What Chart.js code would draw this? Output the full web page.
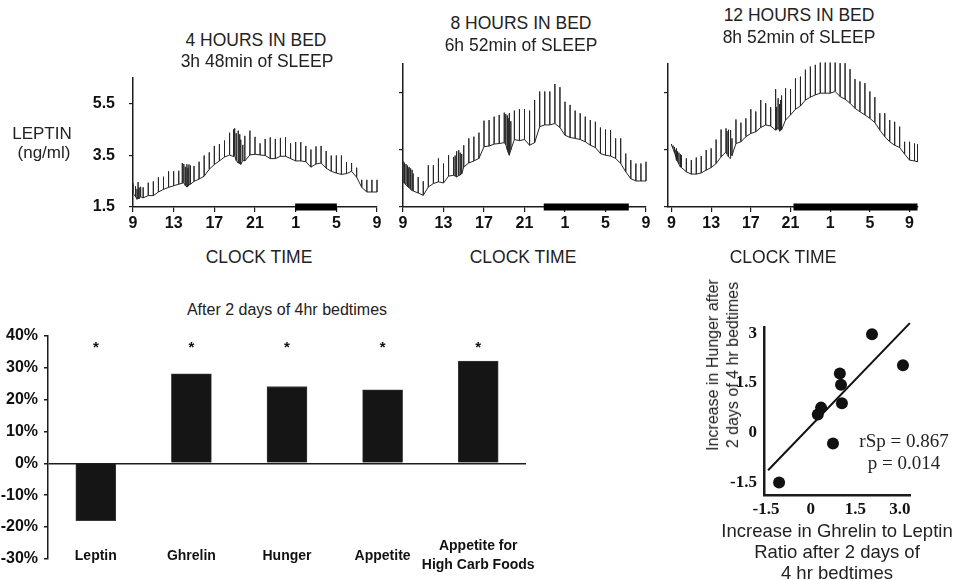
<!DOCTYPE html>
<html><head><meta charset="utf-8">
<script src="https://cdn.jsdelivr.net/npm/chart.js@4.4.0/dist/chart.umd.min.js"></script>
<style>
body{margin:0;background:#fff;}
#wrap{position:relative;width:954px;height:580px;overflow:hidden;font-family:"Liberation Sans",Arial,sans-serif;color:#222;background:#fff;}
canvas{position:absolute;}
.t{position:absolute;white-space:nowrap;transform:translate(-50%,-50%);line-height:1;}
.s{font-family:"Liberation Serif","Times New Roman",serif;}
</style></head><body><div id="wrap">
<canvas id="c1" width="325" height="183" style="left:60px;top:54px"></canvas>
<canvas id="c2" width="269" height="183" style="left:385px;top:54px"></canvas>
<canvas id="c3" width="278" height="183" style="left:650px;top:54px"></canvas>
<canvas id="cb" width="600" height="260" style="left:0px;top:320px"></canvas>
<canvas id="cs" width="220" height="230" style="left:700px;top:310px"></canvas>

<div class="t" style="left:256px;top:41px;font-size:17.5px">4 HOURS IN BED</div>
<div class="t" style="left:257px;top:61.5px;font-size:17.5px">3h 48min of SLEEP</div>
<div class="t" style="left:521px;top:24px;font-size:17.5px">8 HOURS IN BED</div>
<div class="t" style="left:521px;top:46px;font-size:17.5px">6h 52min of SLEEP</div>
<div class="t" style="left:799px;top:16px;font-size:17.5px">12 HOURS IN BED</div>
<div class="t" style="left:799px;top:38px;font-size:17.5px">8h 52min of SLEEP</div>
<div class="t" style="left:259px;top:258px;font-size:17.5px">CLOCK TIME</div>
<div class="t" style="left:523px;top:258px;font-size:17.5px">CLOCK TIME</div>
<div class="t" style="left:783px;top:258px;font-size:17.5px">CLOCK TIME</div>
<div class="t" style="left:42px;top:133px;font-size:17px">LEPTIN</div>
<div class="t" style="left:44px;top:152px;font-size:17px">(ng/ml)</div>
<div class="t" style="left:287px;top:310px;font-size:16px">After 2 days of 4hr bedtimes</div>
<div class="t s" style="left:904px;top:440px;font-size:19px">rSp = 0.867</div>
<div class="t s" style="left:904px;top:462px;font-size:19px">p = 0.014</div>
<div class="t" style="left:723px;top:365px;font-size:16px;line-height:20px;text-align:center;transform:translate(-50%,-50%) rotate(-90deg)">Increase in Hunger after<br>2 days of 4 hr bedtimes</div>
<div class="t" style="left:837px;top:551px;font-size:18.5px;line-height:21px;text-align:center">Increase in Ghrelin to Leptin<br>Ratio after 2 days of<br>4 hr bedtimes</div>
</div>
<script>
// ---------- data ----------
const clockTicks = [0,4,8,12,16,20,24];
const clockLabels = ['9','13','17','21','1','5','9'];
const leptinTicks = [1.5,3.5,5.5];
const halfHours = [0,0.5,1,1.5,2,2.5,3,3.5,4,4.5,5,5.5,6,6.5,7,7.5,8,8.5,9,9.5,10,10.5,11,11.5,12,12.5,13,13.5,14,14.5,15,15.5,16,16.5,17,17.5,18,18.5,19,19.5,20,20.5,21,21.5,22,22.5,23,23.5,24];

// 4 hours in bed
const p1Base = [2.03,1.84,1.85,1.94,1.94,2.08,2.18,2.26,2.32,2.38, 2.44,2.35,2.49,2.58,2.69,2.96,3.14,3.28,3.43,3.51, 3.49,3.18,3.28,3.51,3.54,3.51,3.49,3.37,3.37,3.46, 3.46,3.37,3.28,3.28,3.25,3.04,3.16,3.2,3.0,2.88, 2.81,2.76,2.79,2.88,2.65,2.26,2.08,2.08,2.08];
const p1Peak = [2.41,2.46,2.26,2.44,2.49,2.65,2.67,2.88,2.88,2.9, 3.16,3.14,3.08,3.25,3.49,3.61,3.86,3.93,4.07,4.37, 4.54,4.31,4.25,4.45,4.21,3.96,4.13,4.19,4.13,4.17, 4.19,3.96,4.01,4.01,3.86,3.72,3.84,3.86,3.66,3.49, 3.49,3.49,3.23,3.2,3.02,2.55,2.55,2.55,2.55];
const p1ExtraTime = [0.25,0.4,0.6,0.75, 4.85,5.15,5.3,5.4,5.65, 9.9,10.15,10.35,10.6,10.8];
const p1ExtraBase = [1.9,1.8,1.82,1.9, 2.42,2.33,2.27,2.3,2.38, 3.45,3.3,3.2,3.15,3.3];
const p1ExtraPeak = [2.3,2.2,2.25,2.28, 3.2,3.05,3.15,3.0,3.1, 4.5,4.35,4.45,4.1,3.9];
const p1Sleep = [15.95,20.05];

// 8 hours in bed
const p2Base = [2.38,2.2,2.06,1.99,1.91,2.2,2.32,2.38,2.34,2.58, 2.61,2.6,2.9,3.04,3.11,3.2,3.61,3.63,3.7,3.72, 3.75,3.31,3.86,3.82,3.86,3.66,3.75,4.31,4.37,4.37, 4.42,4.28,4.01,3.93,3.9,3.86,3.78,3.66,3.58,3.37, 3.31,3.28,3.2,3.02,2.73,2.49,2.41,2.41,2.41];
const p2Peak = [3.1,2.85,2.67,2.55,2.4,2.96,2.96,3.2,3.02,3.31, 3.25,3.49,3.66,3.9,3.96,4.1,4.52,4.54,4.66,4.72, 4.8,4.78,4.87,4.92,4.92,4.87,5.24,5.54,5.54,5.54, 5.8,5.69,5.18,5.07,4.87,4.78,4.66,4.54,4.48,4.28, 4.21,4.19,3.9,3.9,3.37,3.14,3.02,3.02,3.08];
const p2ExtraTime = [0.15,0.3,0.45,0.6,0.75,0.9, 5.15,5.3,5.65,5.8, 10.15,10.3,10.4,10.65];
const p2ExtraBase = [2.33,2.28,2.22,2.17,2.12,2.08, 2.58,2.55,2.62,2.66, 3.68,3.5,3.4,3.5];
const p2ExtraPeak = [3.05,3.0,2.95,2.9,2.85,2.8, 3.3,3.45,3.4,3.35, 4.75,4.7,4.6,4.5];
const p2Sleep = [13.9,22.3];

// 12 hours in bed
const p3Time = [...halfHours, 24.5, 24.8];
const p3Base = [3.66,3.14,2.88,2.73,2.65,2.65,2.69,2.79,2.88,3.02, 3.25,3.43,3.35,3.72,3.78,3.96,4.07,4.13,4.28,4.37, 4.33,4.19,4.19,4.54,4.72,4.92,5.03,5.24,5.34,5.42, 5.48,5.48,5.48,5.54,5.36,5.27,5.13,4.95,4.83,4.72, 4.6,4.45,4.19,3.96,3.78,3.66,3.58,3.35,3.14,3.11, 3.08];
const p3Peak = [3.7,3.55,3.31,3.2,3.14,3.23,3.28,3.49,3.55,3.86, 4.21,4.25,4.19,4.56,4.45,4.6,4.92,4.84,5.24,5.13, 4.99,5.62,5.24,5.65,5.62,6.0,6.06,6.3,6.41,6.47, 6.55,6.55,6.55,6.55,6.53,6.53,6.32,5.97,5.89,5.83, 5.54,5.34,4.78,4.78,4.54,4.48,4.31,3.78,3.78,3.72, 3.69];
const p3ExtraTime = [0.15,0.3,0.45,0.6,0.75,0.9, 5.6,5.75,5.9,6.1, 10.6,10.75,10.9,11.1];
const p3ExtraBase = [3.55,3.4,3.25,3.1,3.0,2.9, 3.35,3.25,3.2,3.3, 4.2,4.3,4.15,4.2];
const p3ExtraPeak = [3.65,3.6,3.5,3.45,3.4,3.35, 4.15,4.2,4.1,3.9, 5.0,5.3,5.1,5.4];
const p3Sleep = [12.3,24.8];

// bar chart
const barCategories = ['Leptin','Ghrelin','Hunger','Appetite',['Appetite for','High Carb Foods']];
const barValues = [-18,28,24,23,32];
const barMarks = ['*','*','*','*','*'];
const pctTicks = [-30,-20,-10,0,10,20,30,40];

// scatter
const ratioIncrease  = [2.06,3.10,0.98,1.02,1.05,0.35,0.24,0.75,-1.06];
const hungerIncrease = [2.97,2.04,1.79,1.45,0.89,0.76,0.55,-0.32,-1.50];
const fitX = [-1.43,3.33];
const fitY = [-1.13,3.31];
const scXTicks = [-1.5,0,1.5,3.0];
const scXLabels = ['-1.5','0','1.5','3.0'];
const scYTicks = [-1.5,0,1.5,3];
const scYLabels = ['-1.5','0','1.5','3'];

// ---------- charts ----------
Chart.defaults.font.family = '"Liberation Sans", Arial, sans-serif';
Chart.defaults.color = '#1a1a1a';
const INK = '#1c1c1c';

function sawtooth(times, base, peak, xt, xb, xp){
  const pts = times.map((t,i)=>({t:t,b:base[i],p:peak[i]}));
  xt.forEach((t,i)=>pts.push({t:t,b:xb[i],p:xp[i]}));
  pts.sort((a,b)=>a.t-b.t);
  const out = [];
  pts.forEach(o=>{ out.push({x:o.t,y:o.b}); out.push({x:o.t,y:o.p}); out.push({x:o.t,y:o.b}); });
  return out;
}

function leptinChart(id, data, sleep, o){
  new Chart(document.getElementById(id), {
    type:'line',
    data:{datasets:[
      {data:data, borderColor:'#262626', borderWidth:1, pointRadius:0, tension:0, clip:false},
      {data:[{x:sleep[0],y:1.5},{x:sleep[1],y:1.5}], borderColor:'#000', borderWidth:7, borderCapStyle:'butt', pointRadius:0, clip:false}
    ]},
    options:{
      responsive:false, animation:false, events:[],
      layout:{padding:{top:10,right:o.padRight,left:0,bottom:0}},
      plugins:{legend:{display:false},tooltip:{enabled:false}},
      scales:{
        x:{type:'linear', min:o.xmin, max:o.xmax,
          afterBuildTicks:s=>{s.ticks = clockTicks.map(v=>({value:v}));},
          afterFit:s=>{s.height = 30;},
          ticks:{callback:(v,i)=>clockLabels[i], autoSkip:false, maxRotation:0, padding:2,
                 font:{size:16,weight:'bold'}, color:'#111'},
          grid:{drawOnChartArea:false, drawTicks:true, tickLength:5, color:INK, lineWidth:1.2},
          border:{color:INK, width:1.5}},
        y:{min:1.5, max:6.5,
          afterBuildTicks:s=>{s.ticks = leptinTicks.map(v=>({value:v}));},
          afterFit:s=>{s.width = o.yw;},
          ticks:{display:o.showY, callback:v=>v.toFixed(1), padding:14,
                 font:{size:16,weight:'bold'}, color:'#111'},
          grid:{drawOnChartArea:false, drawTicks:true, tickLength:4, color:INK, lineWidth:1.2},
          border:{color:INK, width:1.5}}
      }
    }
  });
}

leptinChart('c1', sawtooth(halfHours,p1Base,p1Peak,p1ExtraTime,p1ExtraBase,p1ExtraPeak), p1Sleep,
  {xmin:0,xmax:24,yw:73,padRight:8,showY:true});
leptinChart('c2', sawtooth(halfHours,p2Base,p2Peak,p2ExtraTime,p2ExtraBase,p2ExtraPeak), p2Sleep,
  {xmin:0,xmax:24,yw:18,padRight:8,showY:false});
leptinChart('c3', sawtooth(p3Time,p3Base,p3Peak,p3ExtraTime,p3ExtraBase,p3ExtraPeak), p3Sleep,
  {xmin:-0.35,xmax:24.85,yw:18,padRight:10,showY:false});

// asterisks + category labels placed from the category scale
const barTextPlugin = {
  id:'barText',
  afterDatasetsDraw(chart){
    const ctx = chart.ctx, xs = chart.scales.x, area = chart.chartArea;
    ctx.save();
    ctx.fillStyle = '#111';
    ctx.textAlign = 'center'; ctx.textBaseline = 'middle';
    ctx.font = 'bold 15px "Liberation Sans", Arial, sans-serif';
    barMarks.forEach((m,i)=>{ ctx.fillText(m, xs.getPixelForValue(i), area.top + 12); });
    ctx.font = 'bold 14px "Liberation Sans", Arial, sans-serif';
    const lh = 19, cy = area.bottom - 3;
    barCategories.forEach((lab,i)=>{
      const lines = Array.isArray(lab) ? lab : [lab];
      const x = xs.getPixelForValue(i);
      lines.forEach((ln,j)=>{ ctx.fillText(ln, x, cy + (j - (lines.length-1)/2) * lh); });
    });
    ctx.restore();
  }
};

new Chart(document.getElementById('cb'), {
  type:'bar',
  data:{labels:barCategories, datasets:[{data:barValues, backgroundColor:'#151515', borderColor:'#444', borderWidth:0.8, barThickness:40}]},
  options:{
    responsive:false, animation:false, events:[],
    layout:{padding:{top:13,right:74,left:0,bottom:0}},
    plugins:{legend:{display:false},tooltip:{enabled:false}},
    scales:{
      x:{grid:{display:false, drawTicks:false}, border:{display:false},
         afterFit:s=>{s.height = 21;},
         ticks:{display:false}},
      y:{min:-30, max:40,
         afterBuildTicks:s=>{s.ticks = pctTicks.map(v=>({value:v}));},
         afterFit:s=>{s.width = 48;},
         ticks:{callback:v=>v+'%', padding:6, font:{size:16,weight:'bold'}, color:'#111'},
         grid:{drawOnChartArea:true, drawTicks:true, tickLength:4, tickColor:INK,
               color:c=>c.tick && c.tick.value===0 ? INK : 'rgba(0,0,0,0)', lineWidth:1.5},
         border:{color:INK, width:1.5}}
    }
  },
  plugins:[barTextPlugin]
});

new Chart(document.getElementById('cs'), {
  type:'scatter',
  data:{datasets:[
    {type:'line', data:fitX.map((x,i)=>({x:x,y:fitY[i]})), borderColor:'#111', borderWidth:2, pointRadius:0, tension:0, clip:false},
    {data:ratioIncrease.map((x,i)=>({x:x,y:hungerIncrease[i]})), backgroundColor:'#111', borderColor:'#111', pointRadius:6, pointBorderWidth:0, clip:false}
  ]},
  options:{
    responsive:false, animation:false, events:[],
    layout:{padding:{top:12,right:10,left:0,bottom:0}},
    plugins:{legend:{display:false},tooltip:{enabled:false}},
    scales:{
      x:{type:'linear', min:-1.567, max:3.336,
         afterBuildTicks:s=>{s.ticks = scXTicks.map(v=>({value:v}));},
         afterFit:s=>{s.height = 45;},
         ticks:{callback:(v,i)=>scXLabels[i], padding:4, autoSkip:false, maxRotation:0,
                font:{family:'"Liberation Serif","Times New Roman",serif', size:17, weight:'bold'}, color:'#111'},
         grid:{display:false, drawTicks:false}, border:{color:INK, width:2.5}},
      y:{min:-1.876, max:3.186,
         afterBuildTicks:s=>{s.ticks = scYTicks.map(v=>({value:v}));},
         afterFit:s=>{s.width = 64;},
         ticks:{callback:(v,i)=>scYLabels[i], padding:7,
                font:{family:'"Liberation Serif","Times New Roman",serif', size:17, weight:'bold'}, color:'#111'},
         grid:{display:false, drawTicks:false}, border:{color:INK, width:2.5}}
    }
  }
});
</script>
</body></html>
